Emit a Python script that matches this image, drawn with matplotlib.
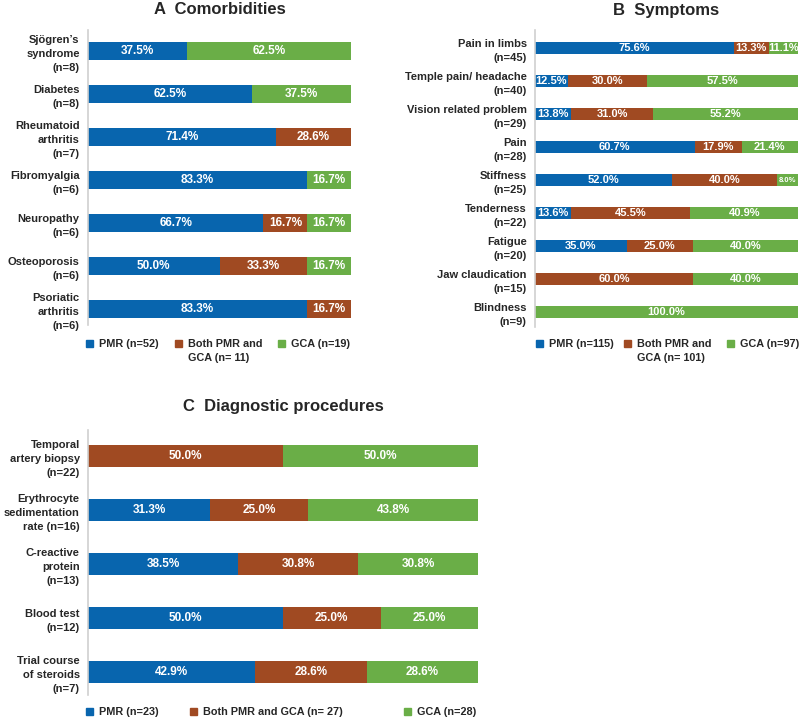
import matplotlib
matplotlib.use("Agg")
import matplotlib.pyplot as plt
from matplotlib.patches import Patch

plt.rcParams["font.family"] = ["Liberation Sans", "DejaVu Sans"]
plt.rcParams["font.weight"] = "bold"

C_PMR = "#0865ae"
C_BOTH = "#a04a22"
C_GCA = "#6aae47"
TXT = "#262626"

# A: comorbidities
com_labels = ["Sjögren’s\nsyndrome\n(n=8)", "Diabetes\n(n=8)", "Rheumatoid\narthritis\n(n=7)",
              "Fibromyalgia\n(n=6)", "Neuropathy\n(n=6)", "Osteoporosis\n(n=6)",
              "Psoriatic\narthritis\n(n=6)"]
com_pmr = [37.5, 62.5, 71.4, 83.3, 66.7, 50.0, 83.3]
com_both = [0, 0, 28.6, 0, 16.7, 33.3, 16.7]
com_gca = [62.5, 37.5, 0, 16.7, 16.7, 16.7, 0]
com_legend = ["PMR (n=52)", "Both PMR and\nGCA (n= 11)", "GCA (n=19)"]

# B: symptoms
sym_labels = ["Pain in limbs\n(n=45)", "Temple pain/ headache\n(n=40)",
              "Vision related problem\n(n=29)", "Pain\n(n=28)", "Stiffness\n(n=25)",
              "Tenderness\n(n=22)", "Fatigue\n(n=20)", "Jaw claudication\n(n=15)",
              "Blindness\n(n=9)"]
sym_pmr = [75.6, 12.5, 13.8, 60.7, 52.0, 13.6, 35.0, 0, 0]
sym_both = [13.3, 30.0, 31.0, 17.9, 40.0, 45.5, 25.0, 60.0, 0]
sym_gca = [11.1, 57.5, 55.2, 21.4, 8.0, 40.9, 40.0, 40.0, 100.0]
sym_legend = ["PMR (n=115)", "Both PMR and\nGCA (n= 101)", "GCA (n=97)"]

# C: diagnostic procedures
dia_labels = ["Temporal\nartery biopsy\n(n=22)", "Erythrocyte\nsedimentation\nrate (n=16)",
              "C-reactive\nprotein\n(n=13)", "Blood test\n(n=12)",
              "Trial course\nof steroids\n(n=7)"]
dia_pmr = [0, 31.3, 38.5, 50.0, 42.9]
dia_both = [50.0, 25.0, 30.8, 25.0, 28.6]
dia_gca = [50.0, 43.8, 30.8, 25.0, 28.6]
dia_legend = ["PMR (n=23)", "Both PMR and GCA (n= 27)", "GCA (n=28)"]

W, H = 800, 720
fig = plt.figure(figsize=(W / 100, H / 100), dpi=100)


def px_axes(x0, y0, x1, y1):
    return fig.add_axes([x0 / W, 1 - y1 / H, (x1 - x0) / W, (y1 - y0) / H])


def stacked(ax, labels, series, bar_h, top_m, bot_m, fs, title, title_y):
    n = len(labels)
    y = list(range(n))
    left = [0.0] * n
    for vals, col in zip(series, [C_PMR, C_BOTH, C_GCA]):
        ax.barh(y, vals, left=left, height=bar_h, color=col, linewidth=0)
        for i, v in enumerate(vals):
            if v > 0:
                ax.text(left[i] + v / 2, i, f"{v:.1f}%", ha="center", va="center",
                        color="white", fontsize=fs if v >= 10 else 5.5,
                        fontweight="bold")
        left = [a + b for a, b in zip(left, vals)]
    ax.set_xlim(0, 100)
    ax.set_ylim(n - 1 + bot_m, -top_m)
    ax.set_yticks(y)
    ax.set_yticklabels(labels, fontsize=8, fontweight="bold", color=TXT,
                       linespacing=1.5)
    ax.tick_params(axis="y", length=0, pad=6)
    ax.set_xticks([])
    for s in ["top", "right", "bottom"]:
        ax.spines[s].set_visible(False)
    ax.spines["left"].set_color("#d0d0d0")
    ax.spines["left"].set_linewidth(1.2)
    bb = ax.get_position()
    fig.text(bb.x0 + bb.width / 2, 1 - title_y / H, title, ha="center", va="center",
             fontsize=12, fontweight="bold", color=TXT)


def legend_row(labels, xs, ytop, fs=7.8):
    for lab, col, x in zip(labels, [C_PMR, C_BOTH, C_GCA], xs):
        leg = fig.legend(handles=[Patch(color=col)], labels=[lab],
                         loc="upper left", bbox_to_anchor=(x / W, 1 - ytop / H),
                         frameon=False, fontsize=fs, handlelength=0.6,
                         handleheight=0.6, handletextpad=0.6, borderpad=0,
                         borderaxespad=0)
        nlines = lab.count("\n") + 1
        for t in leg.get_texts():
            t.set_color(TXT)
            t.set_fontweight("bold")
            t.set_linespacing(1.45)
        if nlines > 1:
            # keep the square next to the first line, as in the source figure
            for h in leg.legend_handles:
                h.set_y(h.get_y() + 0.5 * fs * 1.45 * (nlines - 1))


axA = px_axes(88, 30, 351, 325)
stacked(axA, com_labels, [com_pmr, com_both, com_gca], 0.42, 0.49, 0.37, 8.5,
        "A  Comorbidities", 10)
legend_row(com_legend, [86, 175, 278], 339)

axB = px_axes(535, 30, 798, 327)
stacked(axB, sym_labels, [sym_pmr, sym_both, sym_gca], 0.38, 0.55, 0.45, 8,
        "B  Symptoms", 10)
legend_row(sym_legend, [536, 624, 727], 339)

axC = px_axes(88, 430, 478, 695)
stacked(axC, dia_labels, [dia_pmr, dia_both, dia_gca], 0.41, 0.48, 0.43, 8.5,
        "C  Diagnostic procedures", 407)
legend_row(dia_legend, [86, 190, 404], 707)

fig.savefig("out.png", dpi=100)
